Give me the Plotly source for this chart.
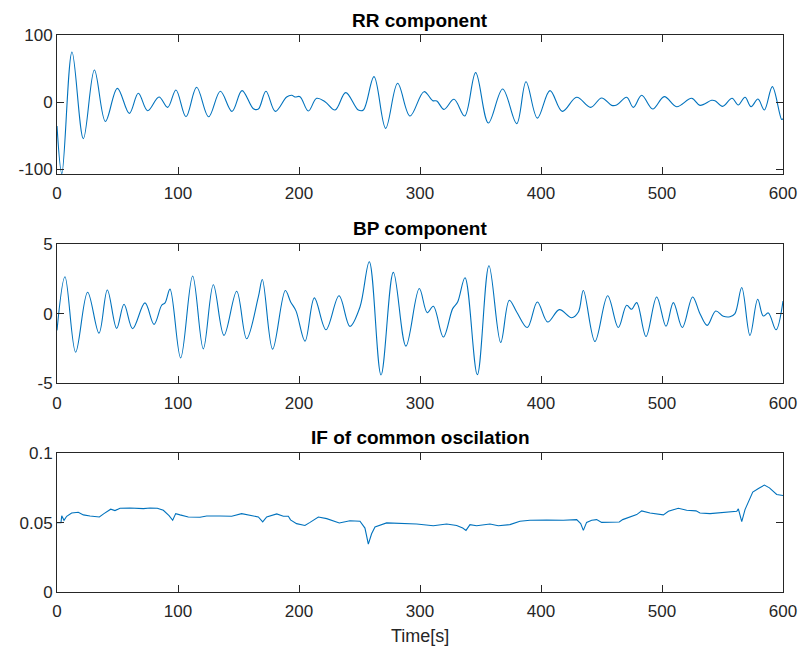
import plotly.graph_objects as go
from plotly.subplots import make_subplots

# RR component (local extrema and shoulders of the oscillation)
rr_t = [0, 4, 12.4, 21.8, 30.9, 40, 49.9, 59.8, 67.2, 74.9, 84.3, 91.5, 98.3, 106.6,
        115.4, 125.3, 135, 144.6, 152.9, 162.3, 166.4, 172.7, 180.4, 189.8, 194, 196.7,
        200.8, 207.7, 214.6, 221.5, 229.8, 238.6, 249, 253.2, 262, 271.6, 281.5, 291.7,
        303.3, 310.5, 313.9, 319.8, 328.1, 336.9, 346, 356.5, 368.3, 379.9, 387.6, 397,
        407.4, 417.6, 429.5, 441, 450.1, 458.4, 462.5, 470.8, 476.3, 483.2, 492.3, 501.9,
        512.1, 524.5, 531.4, 541, 543.8, 550.1, 557.9, 563, 568.6, 573.6, 579.3, 584.6,
        591.2, 598.9, 600]
rr_v = [-36, -107, 74.6, -54.7, 47.8, -29, 20.4, -17, 13, -13, 7.5, -8, 18, -22,
        22, -22, 16, -14, 17, -10, -10.5, 16, -14, 7.5, 10, 7.5,
        8, -13.4, 5.5, 0.5, -12, 14, -12, -12, 37.8, -39.3, 27.9, -20.9,
        15.4, 2, 1.5, -11, 4, -21, 43.8, -31.3, 19.4, -32.3, 30.3, -24,
        17, -14, 7, -8, 6, -5, -4.5, 7, -8, 10, -10.5, 8,
        -7, 5.5, -5, 2.5, 2, -6.5, 5.5, -4.5, 7, -7, 4.5, -12,
        23, -26, -25]

# BP component
bp_t = [0, 6.6, 15.4, 25.3, 34.7, 41.6, 49.3, 55.4, 62.5, 72.7, 80.2, 86.5, 89.3, 93.4,
        102.2, 112.1, 120.9, 129.2, 138, 148.5, 156.7, 166.4, 169.7, 178.2, 188.7, 193.1,
        197.5, 205, 212.7, 222.3, 233.1, 242.1, 250.4, 258.1, 267.8, 278, 288.4, 299.4,
        306, 311, 319.3, 327, 331.1, 337.2, 347.4, 357, 366.7, 373.8, 379.9, 388.7, 397,
        405.5, 415.2, 425.3, 430.9, 435, 444.6, 455.1, 463.9, 470.8, 474.9, 479.1, 486.8,
        495.6, 503.3, 509.4, 516.8, 525.3, 531.4, 537.4, 544.4, 550.7, 556.2, 560.3,
        565.9, 572.7, 579.1, 583.7, 587.9, 594.2, 600]
bp_v = [-1.2, 2.65, -2.77, 1.54, -1.4, 1.7, -1.06, 0.67, -1.08, 0.77, -0.77, 0.6, 0.77, 1.76,
        -3.18, 2.7, -2.53, 2.07, -1.56, 1.61, -1.8, 1.2, 2.45, -2.55, 1.66, 0.84,
        0.2, -1.97, 1.13, -1.16, 1.28, -0.91, 0.48, 3.73, -4.4, 2.96, -2.33, 1.8,
        0.07, 0.53, -1.68, 0.36, 0.84, 2.58, -4.38, 3.44, -2.07, 0.96, 0.12, -1.0, 0.84,
        -0.6, 0.29, -0.29, 0.12, 1.66, -2.0, 1.28, -1.0, 0.6, 0.31, 0.79, -1.64,
        1.2, -0.91, 0.79, -1.0, 1.2, 0, -0.84, 0.19, -0.19, -0.22, 0,
        1.88, -1.56, 1.03, -0.17, 0.05, -1.16, 0.91]

# Instantaneous frequency of the common oscillation
if_t = [0, 3.3, 3.9, 5.8, 8, 12.1, 17.6, 21.8, 27.3, 35, 38.8, 44.4, 47.9, 52.1, 60.3,
        71.4, 76.9, 82.9, 87.9, 92.6, 95.6, 98.1, 101.7, 108.5, 118.2, 123.7, 134.7,
        144.4, 152.6, 159.5, 166.4, 170, 173.3, 181.6, 187.1, 191.2, 193, 198, 204.9,
        209.1, 216, 222.9, 233.3, 242.1, 250.4, 254.5, 257.3, 260, 262.8, 272.4, 283.5,
        297.2, 311, 322, 330.3, 335.3, 338, 341.3, 346.8, 357.8, 364.7, 374.3, 382.6,
        390.9, 404.7, 418.4, 429.5, 432.8, 435, 437.7, 441.9, 446, 450.1, 457, 464.7,
        467.5, 473.6, 479.1, 483.2, 490.1, 501.1, 505.3, 513.5, 520.4, 528.1, 531.4,
        539.7, 548, 556.2, 561.8, 563.1, 565.9, 568.6, 571.4, 575, 579.7, 584.6, 588.8,
        594.8, 600]
if_v = [0.050, 0.050, 0.055, 0.0517, 0.0546, 0.057, 0.0575, 0.0556, 0.0548, 0.0541, 0.0565,
        0.0597, 0.0587, 0.0604, 0.0606, 0.0601, 0.0606, 0.0604, 0.0589, 0.0551, 0.0517,
        0.0565, 0.0556, 0.0541, 0.0539, 0.0548, 0.0548, 0.0546, 0.0565, 0.0551, 0.0541,
        0.0505, 0.0541, 0.0563, 0.0546, 0.0546, 0.052, 0.0493, 0.048, 0.0502, 0.0541,
        0.0529, 0.0498, 0.0514, 0.051, 0.0461, 0.0345, 0.042, 0.0469, 0.0498, 0.0493,
        0.049, 0.0478, 0.049, 0.048, 0.0461, 0.0444, 0.0486, 0.0478, 0.049, 0.0478,
        0.0486, 0.051, 0.0517, 0.0519, 0.0517, 0.0522, 0.0493, 0.0444, 0.0502, 0.0517,
        0.0522, 0.0502, 0.0502, 0.0505, 0.0522, 0.0539, 0.0558, 0.0585, 0.057, 0.0556,
        0.0582, 0.0604, 0.0589, 0.0585, 0.057, 0.0565, 0.057, 0.0575, 0.0582, 0.0599,
        0.0507, 0.0594, 0.0655, 0.072, 0.0746, 0.0771, 0.0751, 0.0703, 0.0696]

x_ticks = [0, 100, 200, 300, 400, 500, 600]
rr_ticks = [-100, 0, 100]
bp_ticks = [-5, 0, 5]
if_ticks = [0, 0.05, 0.1]
if_tick_text = ["0", "0.05", "0.1"]

titles = ["RR component", "BP component", "IF of common oscilation"]
x_label = "Time[s]"

LINE = "#0072BD"
AX = "#262626"
FONT = "Arial, Liberation Sans, Helvetica, sans-serif"

fig = make_subplots(rows=3, cols=1)

fig.add_trace(go.Scatter(x=rr_t, y=rr_v, mode="lines",
                         line=dict(color=LINE, width=1.1, shape="spline", smoothing=1.0)),
              row=1, col=1)
fig.add_trace(go.Scatter(x=bp_t, y=bp_v, mode="lines",
                         line=dict(color=LINE, width=1.1, shape="spline", smoothing=1.0)),
              row=2, col=1)
fig.add_trace(go.Scatter(x=if_t, y=if_v, mode="lines",
                         line=dict(color=LINE, width=1.1)),
              row=3, col=1)

axis_style = dict(showline=True, linecolor=AX, linewidth=1, mirror="ticks",
                  ticks="inside", ticklen=7, tickcolor=AX, tickwidth=1,
                  showgrid=False, zeroline=False, automargin=False,
                  tickfont=dict(family=FONT, size=17, color=AX))

y_domains = [[0.7504, 1.0], [0.3747, 0.6248], [0.0, 0.249]]
y_ranges = [[-107.5, 100], [-5, 5], [0, 0.1]]
y_tickvals = [rr_ticks, bp_ticks, if_ticks]
y_ticktext = [[str(v) for v in rr_ticks], [str(v) for v in bp_ticks], if_tick_text]

for i in range(3):
    fig.update_xaxes(row=i + 1, col=1, range=[0, 600], tickvals=x_ticks,
                     ticktext=[str(v) for v in x_ticks], ticklabelstandoff=4,
                     **axis_style)
    fig.update_yaxes(row=i + 1, col=1, range=y_ranges[i], domain=y_domains[i],
                     tickvals=y_tickvals[i], ticktext=y_ticktext[i], **axis_style)

title_y = [1.026, 0.652, 0.277]
for i, t in enumerate(titles):
    fig.add_annotation(text="<b>%s</b>" % t, xref="paper", yref="paper",
                       x=0.5, y=title_y[i], xanchor="center", yanchor="middle",
                       showarrow=False, font=dict(family=FONT, size=19, color="#000000"))

fig.add_annotation(text=x_label, xref="paper", yref="paper", x=0.5, y=-0.079,
                   xanchor="center", yanchor="middle", showarrow=False,
                   font=dict(family=FONT, size=18, color=AX))

fig.update_layout(width=801, height=652, showlegend=False,
                  margin=dict(l=57, r=18, t=35, b=60),
                  paper_bgcolor="white", plot_bgcolor="white")

fig.write_html("out.html")
